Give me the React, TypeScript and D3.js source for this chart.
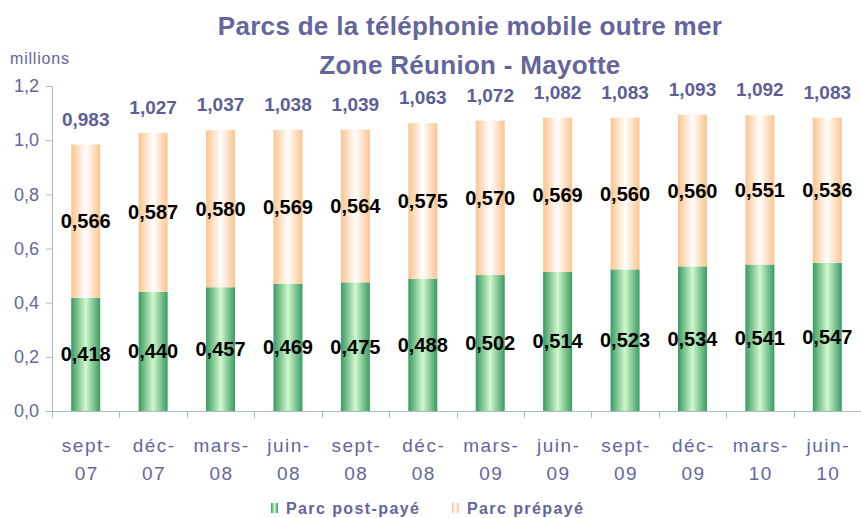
import { useEffect, useRef } from "react";
import * as d3 from "d3";

// data
const periods = ["sept-|07", "déc-|07", "mars-|08", "juin-|08", "sept-|08", "déc-|08", "mars-|09", "juin-|09", "sept-|09", "déc-|09", "mars-|10", "juin-|10"];
const postPaid = [0.418, 0.44, 0.457, 0.469, 0.475, 0.488, 0.502, 0.514, 0.523, 0.534, 0.541, 0.547];
const prePaid = [0.566, 0.587, 0.58, 0.569, 0.564, 0.575, 0.57, 0.569, 0.56, 0.56, 0.551, 0.536];
const totals = [0.983, 1.027, 1.037, 1.038, 1.039, 1.063, 1.072, 1.082, 1.083, 1.093, 1.092, 1.083];
const yTicks = [0, 0.2, 0.4, 0.6, 0.8, 1.0, 1.2];

const W = 861;
const H = 518;
const FONT = "'Liberation Sans', Arial, sans-serif";
const TXT = "#65659b";

const fmt = (v: number, n: number) => v.toFixed(n).replace(".", ",");

export default function App() {
	const ref = useRef<SVGSVGElement>(null);

	useEffect(() => {
		const svg = d3.select(ref.current);
		svg.selectAll("*").remove();

		const margin = { top: 86, right: 0, bottom: 107, left: 52 };
		const x = d3.scaleBand().domain(d3.range(periods.length).map(String)).range([margin.left, W - margin.right]).paddingInner(0.57).paddingOuter(0.285);
		const y = d3.scaleLinear().domain([0, 1.2]).range([H - margin.bottom, margin.top]);

		// gradients
		const defs = svg.append("defs");
		const grad = (id: string, edge: string, mid: string) => {
			const g = defs.append("linearGradient").attr("id", id).attr("x1", 0).attr("x2", 1).attr("y1", 0).attr("y2", 0);
			g.append("stop").attr("offset", "0%").attr("stop-color", edge);
			g.append("stop").attr("offset", "50%").attr("stop-color", mid);
			g.append("stop").attr("offset", "100%").attr("stop-color", edge);
		};
		grad("gPost", "#3a9a62", "#d0f8cc");
		grad("gPre", "#fbc48f", "#ffffff");

		// title
		const title = svg.append("g").attr("font-family", FONT).attr("font-weight", "bold").attr("font-size", 26).attr("fill", TXT).attr("text-anchor", "middle");
		title.append("text").attr("x", 470).attr("y", 35).attr("letter-spacing", 0.3).text("Parcs de la téléphonie mobile outre mer");
		title.append("text").attr("x", 470).attr("y", 74).attr("letter-spacing", 0.3).text("Zone Réunion - Mayotte");

		svg.append("text").attr("x", 10).attr("y", 64).attr("font-family", FONT).attr("font-size", 16).attr("letter-spacing", 0.8).attr("fill", TXT).text("millions");

		// axes
		const axisColor = "#a9bcc6";
		const yAxis = svg.append("g").attr("transform", `translate(${margin.left},0)`).call(d3.axisLeft(y).tickValues(yTicks).tickSize(6).tickFormat((d) => fmt(+d, 1)));
		yAxis.select(".domain").attr("stroke", axisColor);
		yAxis.selectAll(".tick line").attr("stroke", axisColor);
		yAxis.selectAll(".tick text").attr("x", -13).attr("font-family", FONT).attr("font-size", 18).attr("fill", TXT);

		const step = x.step();
		const xg = svg.append("g").attr("stroke", axisColor);
		xg.append("line").attr("x1", margin.left).attr("x2", W).attr("y1", y(0) + 0.5).attr("y2", y(0) + 0.5);
		d3.range(periods.length + 1).forEach((i) => {
			const px = Math.round(margin.left + i * step) + 0.5;
			xg.append("line").attr("x1", px).attr("x2", px).attr("y1", y(0)).attr("y2", y(0) + 7);
		});

		// x labels
		periods.forEach((p, i) => {
			const cx = (x(String(i)) as number) + x.bandwidth() / 2;
			const parts = p.split("|");
			const t = svg.append("text").attr("font-family", FONT).attr("font-size", 19).attr("fill", TXT).attr("text-anchor", "middle").attr("letter-spacing", 1.5);
			t.append("tspan").attr("x", cx + 1).attr("y", 452).text(parts[0]);
			t.append("tspan").attr("x", cx + 1).attr("y", 480).text(parts[1]);
		});

		// bars
		const bars = svg.append("g");
		periods.forEach((_, i) => {
			const bx = x(String(i)) as number;
			const bw = x.bandwidth();
			const top1 = y(postPaid[i]);
			const top2 = y(postPaid[i] + prePaid[i]);
			bars.append("rect").attr("x", bx).attr("y", top1).attr("width", bw).attr("height", y(0) - top1).attr("fill", "url(#gPost)");
			bars.append("rect").attr("x", bx).attr("y", top2).attr("width", bw).attr("height", top1 - top2).attr("fill", "url(#gPre)");

			const cx = bx + bw / 2;
			const lab = svg.append("g").attr("font-family", FONT).attr("font-weight", "bold").attr("text-anchor", "middle");
			lab.append("text").attr("x", cx).attr("y", (top1 + y(0)) / 2 + 7).attr("font-size", 20).attr("fill", "#000").text(fmt(postPaid[i], 3));
			lab.append("text").attr("x", cx).attr("y", (top1 + top2) / 2 + 7).attr("font-size", 20).attr("fill", "#000").text(fmt(prePaid[i], 3));
			lab.append("text").attr("x", cx).attr("y", y(totals[i]) - 19).attr("font-size", 19).attr("fill", "#5e5e96").text(fmt(totals[i], 3));
		});

		// legend
		const legend = [
			{ label: "Parc post-payé", fill: "url(#gPost)", x: 271 },
			{ label: "Parc prépayé", fill: "url(#gPre)", x: 452 },
		];
		const lg = svg.append("g").attr("font-family", FONT);
		legend.forEach((l) => {
			lg.append("rect").attr("x", l.x).attr("y", 503).attr("width", 7).attr("height", 10).attr("fill", l.fill);
			lg.append("text").attr("x", l.x + 15).attr("y", 514).attr("font-size", 16).attr("font-weight", "bold").attr("letter-spacing", 1.4).attr("fill", TXT).text(l.label);
		});
	}, []);

	return (
		<div style={{ position: "absolute", left: 0, top: 0, width: W, height: H, background: "#fff" }}>
			<svg ref={ref} width={W} height={H} />
		</div>
	);
}
